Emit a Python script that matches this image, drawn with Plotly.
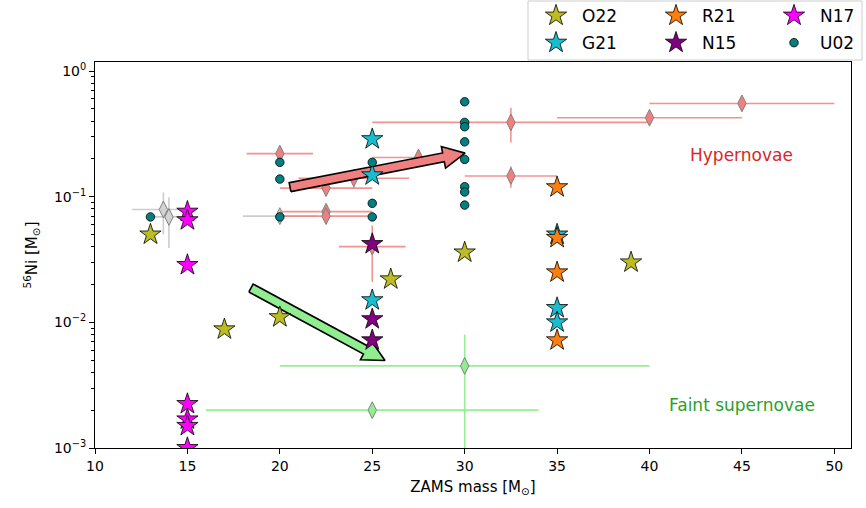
import numpy as np
import plotly.graph_objects as go

# ---------------- data ----------------
o22_mass = [13, 17, 20, 26, 30, 39]
o22_ni = [0.050, 0.0088, 0.011, 0.022, 0.036, 0.030]

g21_mass = [25, 25, 25, 35, 35, 35]
g21_ni = [0.287, 0.148, 0.015, 0.050, 0.013, 0.010]

r21_mass = [35, 35, 35, 35]
r21_ni = [0.119, 0.047, 0.025, 0.0072]

n15_mass = [25, 25, 25]
n15_ni = [0.042, 0.0106, 0.0072]

n17_mass = [15, 15, 15, 15, 15, 15, 15]
n17_ni = [0.076, 0.065, 0.0286, 0.00224, 0.00169, 0.0015, 0.001]

u02_mass = [13, 20, 20, 20, 25, 25, 25, 30, 30, 30, 30, 30, 30, 30, 30]
u02_ni = [0.069, 0.1875, 0.138, 0.069, 0.1875, 0.0885, 0.069,
          0.569, 0.39, 0.36, 0.273, 0.198, 0.12, 0.109, 0.0857]

# observed hypernovae
hn_mass = [20, 22.5, 22.5, 22.5, 24, 25, 27.5, 32.5, 32.5, 40, 45]
hn_ni = [0.22, 0.117, 0.076, 0.070, 0.14, 0.040, 0.205, 0.39, 0.146, 0.425, 0.552]
hn_mass_err = [1.8, 2.5, 2.5, 2.5, 3, 1.8, 2.5, 7.5, 2.5, 5, 5]
hn_ni_err = [0.03, 0, 0, 0, 0.025, 0.019, 0, 0.12, 0.028, 0, 0]

# observed normal supernovae
sn_mass = [13.7, 14, 20]
sn_ni = [0.079, 0.069, 0.070]
sn_mass_err = [1.7, 1.0, 2.0]
sn_ni_err = [0.029, 0.030, 0]

# observed faint supernovae
fs_mass = [30, 25]
fs_ni = [0.0045, 0.002]
fs_mass_err = [10, 9]
fs_ni_err = [0.0035, 0]

# arrows (tail, tip) in data units
red_arrow = [(20.55, 0.119), (30.02, 0.222)]
green_arrow = [(18.44, 0.01875), (25.69, 0.00497)]

# ---------------- layout constants ----------------
W, H = 866, 508
ML, MR, MT, MB = 95, 15, 62, 60
XR = [10, 50.9]
YR = [-3, 0.0716]
PW, PH = W - ML - MR, H - MT - MB
FONT = "DejaVu Sans"


def to_px(m, v):
    px = ML + (m - XR[0]) / (XR[1] - XR[0]) * PW
    py = MT + (YR[1] - np.log10(v)) / (YR[1] - YR[0]) * PH
    return np.array([px, py])


def from_px(p):
    m = XR[0] + (p[0] - ML) / PW * (XR[1] - XR[0])
    lv = YR[1] - (p[1] - MT) / PH * (YR[1] - YR[0])
    return m, 10 ** lv


def arrow_poly(tail, tip, w=4.5, hw=11, hl=22):
    T = to_px(*tail)
    P = to_px(*tip)
    d = (P - T) / np.linalg.norm(P - T)
    n = np.array([-d[1], d[0]])
    B = P - hl * d
    pts = [T + w * n, B + w * n, B + hw * n, P, B - hw * n, B - w * n, T - w * n, T + w * n]
    xs, ys = zip(*[from_px(p) for p in pts])
    return list(xs), list(ys)


fig = go.Figure()


def err_trace(x, y, ex, ey, fill, ecol):
    return go.Scatter(
        x=x, y=y, mode="markers",
        marker=dict(symbol="diamond-tall", size=12, color=fill,
                    line=dict(color="#808080", width=1)),
        error_x=dict(type="data", array=ex, color=ecol, thickness=1.6, width=0),
        error_y=dict(type="data", array=ey, color=ecol, thickness=1.6, width=0),
        showlegend=False, hoverinfo="skip",
    )


fig.add_trace(err_trace(sn_mass, sn_ni, sn_mass_err, sn_ni_err, "#d3d3d3", "rgba(200,200,200,0.9)"))
fig.add_trace(err_trace(hn_mass, hn_ni, hn_mass_err, hn_ni_err, "#f08080", "rgba(240,128,128,0.85)"))
fig.add_trace(err_trace(fs_mass, fs_ni, fs_mass_err, fs_ni_err, "#90ee90", "rgba(144,238,144,0.95)"))

for arr, col in [(red_arrow, "#f08080"), (green_arrow, "#90ee90")]:
    ax_, ay_ = arrow_poly(*arr)
    fig.add_trace(go.Scatter(x=ax_, y=ay_, mode="lines", fill="toself",
                             fillcolor=col, line=dict(color="black", width=1.6),
                             showlegend=False, hoverinfo="skip"))

series = [
    ("O22", o22_mass, o22_ni, "#bcbd22", "star", 16, "legend"),
    ("G21", g21_mass, g21_ni, "#17becf", "star", 16, "legend"),
    ("R21", r21_mass, r21_ni, "#ff7f0e", "star", 16, "legend2"),
    ("N15", n15_mass, n15_ni, "#800080", "star", 16, "legend2"),
    ("N17", n17_mass, n17_ni, "#ff00ff", "star", 16, "legend3"),
    ("U02", u02_mass, u02_ni, "#008080", "circle", 8.5, "legend3"),
]
for name, x, y, col, sym, size, leg in series:
    fig.add_trace(go.Scatter(
        x=x, y=y, mode="markers", name=name, legend=leg, legendgroup=name,
        marker=dict(symbol=sym, size=size, color=col, line=dict(color="black", width=0.8)),
    ))

# annotations
fig.add_annotation(x=45, y=np.log10(0.214), text="Hypernovae", showarrow=False,
                   font=dict(family=FONT, size=17, color="#d62728"))
fig.add_annotation(x=45, y=np.log10(0.0022), text="Faint supernovae", showarrow=False,
                   font=dict(family=FONT, size=17, color="#2ca02c"))

# legend frame
fig.add_shape(type="rect", xref="paper", yref="paper",
              x0=(528 - ML) / PW, x1=(862 - ML) / PW,
              y0=(H - MB - 60) / PH, y1=(H - MB - 1) / PH,
              line=dict(color="#cccccc", width=1), fillcolor="white", layer="above")

leg_common = dict(font=dict(family=FONT, size=17, color="black"), bgcolor="rgba(0,0,0,0)",
                  borderwidth=0, yanchor="top", xanchor="left", tracegroupgap=2,
                  itemwidth=42, y=(H - MB + 2) / PH)
yt_minor = [k * 10.0 ** e for e in (-3, -2, -1) for k in range(2, 10)]

fig.update_layout(
    width=W, height=H,
    margin=dict(l=ML, r=MR, t=MT, b=MB, autoexpand=False),
    paper_bgcolor="white", plot_bgcolor="white",
    font=dict(family=FONT, size=14, color="black"),
    legend=dict(x=(530 - ML) / PW, **leg_common),
    legend2=dict(x=(650 - ML) / PW, **leg_common),
    legend3=dict(x=(768 - ML) / PW, **leg_common),
    xaxis=dict(range=XR, tickvals=[10, 15, 20, 25, 30, 35, 40, 45, 50],
               ticks="outside", ticklen=5, tickwidth=1, tickcolor="black",
               showline=True, linecolor="black", linewidth=1, mirror=True,
               showgrid=False, zeroline=False, tickfont=dict(size=14), automargin=False,
               title=dict(text="ZAMS mass [M<sub>⊙</sub>]", font=dict(size=15), standoff=8)),
    yaxis=dict(type="log", range=YR, tickvals=[1e-3, 1e-2, 1e-1, 1],
               ticktext=["10<sup>−3</sup>", "10<sup>−2</sup>", "10<sup>−1</sup>", "10<sup>0</sup>"],
               ticks="outside", ticklen=5, tickwidth=1, tickcolor="black",
               minor=dict(tickvals=yt_minor, ticks="outside", ticklen=3, tickcolor="black", showgrid=False),
               showline=True, linecolor="black", linewidth=1, mirror=True, automargin=False,
               showgrid=False, zeroline=False, tickfont=dict(size=14),
               title=dict(text="<sup>56</sup>Ni [M<sub>⊙</sub>]", font=dict(size=15), standoff=12)),
)

fig.write_html("out.html", config={"displayModeBar": False},
               post_script="document.body.style.margin='0';")
